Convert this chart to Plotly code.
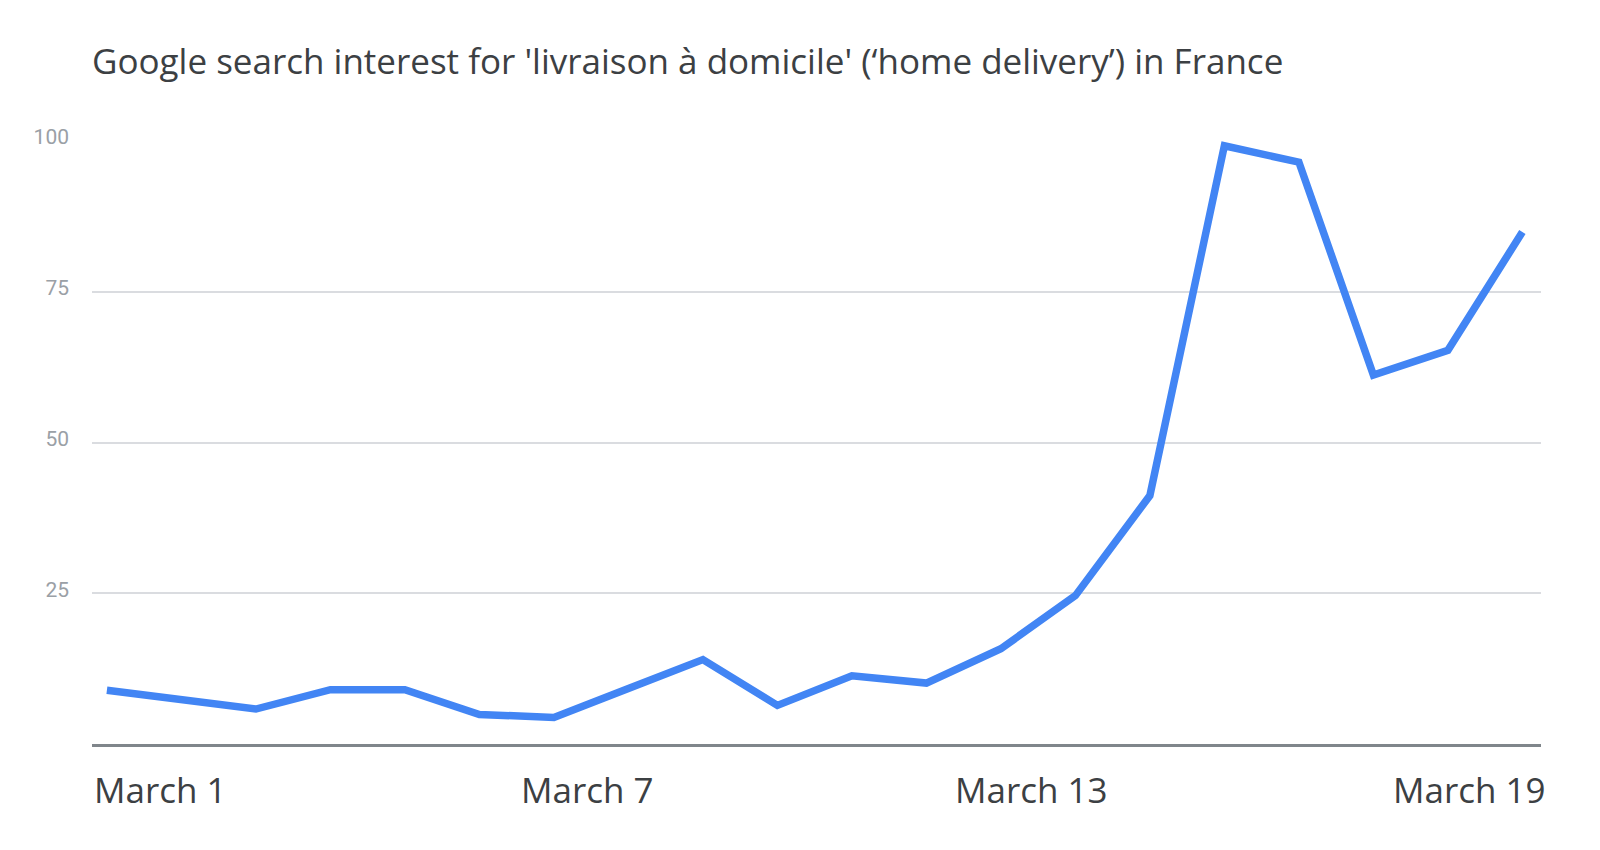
import plotly.graph_objects as go

# Daily search interest, March 1 - March 20 (index = day offset)
days = list(range(20))
interest = [8.9, 7.2, 5.8, 9.0, 9.0, 4.9, 4.4, 9.2, 14.0, 6.4,
            11.3, 10.1, 15.8, 24.6, 41.2, 99.2, 96.5, 61.2, 65.3, 84.9]

y_ticks = [25, 50, 75, 100]
x_labels = ["March 1", "March 7", "March 13", "March 19"]
x_label_pos = [0.0, 0.295, 0.594, 1.005]  # paper coords of the label edges
x_label_anchor = ["left", "left", "left", "right"]

title = "Google search interest for 'livraison à domicile' (\u2018home delivery\u2019) in France"

fig = go.Figure()
fig.add_trace(go.Scatter(x=days, y=interest, mode="lines",
                         line=dict(color="#4285f4", width=7.5),
                         hoverinfo="y"))

for lab, pos, anc in zip(x_labels, x_label_pos, x_label_anchor):
    fig.add_annotation(x=pos, y=-0.076, xref="paper", yref="paper",
                       text=lab, showarrow=False, xanchor=anc, yanchor="middle",
                       font=dict(family="Open Sans", size=35, color="#3c4043"))

fig.update_layout(
    width=1600, height=850,
    paper_bgcolor="white", plot_bgcolor="white",
    margin=dict(l=84, r=67, t=133, b=114),
    showlegend=False,
    title=dict(text=title, x=84/1600, xref="container", xanchor="left",
               y=1 - 54/850, yref="container", yanchor="middle",
               font=dict(family="Open Sans", size=35, color="#3c4043")),
    xaxis=dict(range=[-0.2, 19.25], showgrid=False, zeroline=False,
               showticklabels=False, showline=True, linecolor="#80868b", linewidth=2.5),
    yaxis=dict(range=[0, 100], tickvals=y_ticks, showgrid=True, gridcolor="#dadce0",
               gridwidth=2, zeroline=False, ticklabelstandoff=22, ticklabelshift=-4,
               tickfont=dict(family="Roboto", size=21, color="#9aa0a6")),
)

fig.write_html("out.html")
